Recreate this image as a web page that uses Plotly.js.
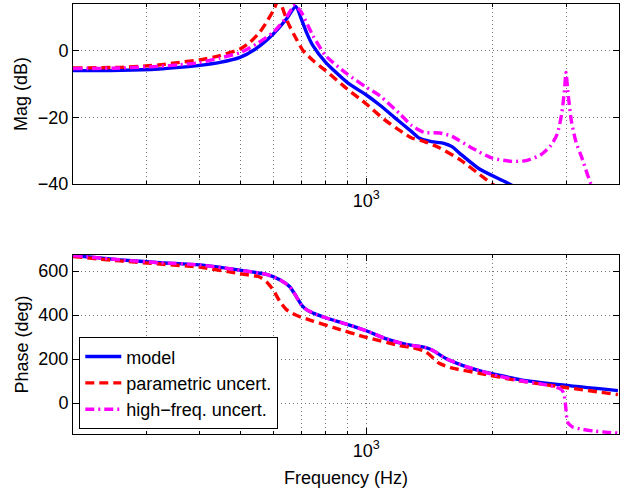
<!DOCTYPE html>
<html>
<head>
<meta charset="utf-8">
<script src="https://cdn.plot.ly/plotly-3.0.1.min.js"></script>
<style>
  html, body { margin: 0; padding: 0; background: #fff; }
  #plot { width: 628px; height: 488px; }
</style>
</head>
<body>
<div id="plot"></div>
<script>
// Bode magnitude (dB) — nominal model
const freqModelMag = [200, 260, 320, 359, 400, 448, 500, 547, 600, 645, 679, 700, 720, 746, 800, 900, 1000, 1076, 1166, 1280, 1340, 1430, 1530, 1600, 1670, 1860, 2170, 2500, 4000];
const magModel     = [-6.0, -5.9, -5.5, -5.0, -4.4, -3.5, -2.0, 0.7, 5.0, 9.5, 13.3, 9.5, 5.5, 1.5, -3.5, -9.5, -13.3, -16.3, -20.0, -24.2, -26.3, -27.3, -27.8, -28.8, -30.8, -35.5, -39.7, -44, -60];

// Bode magnitude (dB) — parametric uncertainty
const freqParamMag = [200, 260, 320, 359, 400, 448, 500, 528, 557, 578, 600, 616, 621, 627, 650, 679, 707, 750, 800, 900, 1000, 1100, 1203, 1283, 1371, 1497, 1671, 1864, 2006, 2400, 4000];
const magParam     = [-5.2, -5.0, -4.3, -3.5, -2.8, -1.5, 0.5, 2.5, 5.5, 8.5, 12.0, 15.5, 17.0, 14.0, 8.5, 3.8, 0.0, -3.2, -6.0, -11.5, -16.0, -20.5, -24.0, -26.2, -27.2, -29.2, -32.7, -37.2, -40.2, -46, -60];

// Bode magnitude (dB) — high-frequency uncertainty
const freqHighMag = [200, 260, 320, 359, 400, 448, 500, 547, 600, 645, 675, 700, 746, 800, 900, 1000, 1076, 1203, 1283, 1371, 1497, 1600, 1784, 1991, 2222, 2400, 2600, 2750, 2850, 2920, 2965, 2990, 3025, 3080, 3160, 3260, 3430, 3700, 4000];
const magHigh     = [-5.4, -5.2, -4.7, -4.2, -3.6, -2.2, -0.6, 2.0, 5.5, 10.0, 13.7, 11.5, 4.5, -1.5, -7.0, -11.0, -13.5, -19.0, -22.5, -24.5, -24.7, -25.7, -29.2, -32.2, -33.2, -33.0, -31.3, -28.5, -25.0, -19.0, -12.0, -6.5, -13.0, -21.0, -27.5, -32.0, -40.0, -47.0, -52.0];

// Bode phase (deg) — nominal model
const freqModelPh = [200, 259, 322, 400, 500, 578, 622, 657, 681, 700, 720, 760, 800, 900, 1000, 1116, 1243, 1387, 1438, 1547, 1727, 1858, 2080, 2321, 2890, 3976];
const phaseModel  = [671, 651, 638, 628, 604, 585, 561, 529, 484, 447, 425, 403, 388, 358, 329, 292, 267, 252, 240, 203, 166, 148, 126, 107, 84, 57];

// Bode phase (deg) — parametric uncertainty
const freqParamPh = [200, 259, 322, 400, 500, 557, 578, 600, 622, 645, 681, 746, 833, 1000, 1199, 1289, 1387, 1492, 1605, 1858, 2321, 2890, 3976];
const phaseParam  = [666, 646, 632, 618, 588, 573, 551, 514, 462, 425, 399, 373, 344, 299, 262, 252, 233, 181, 159, 136, 101, 75, 39];

// Bode phase (deg) — high-frequency uncertainty
const freqHighPh = [200, 259, 322, 400, 500, 578, 622, 657, 681, 700, 720, 760, 800, 900, 1000, 1116, 1243, 1387, 1438, 1547, 1727, 1858, 2080, 2321, 2600, 2800, 2900, 2950, 2975, 2990, 3005, 3030, 3100, 3250, 3500, 3976];
const phaseHigh  = [671, 651, 638, 628, 604, 585, 561, 529, 484, 447, 425, 403, 388, 358, 329, 292, 267, 252, 240, 203, 166, 148, 122, 103, 88, 75, 65, 48, 12, -30, -70, -92, -108, -118, -127, -136];

// Legend labels and axis tick labels
const seriesNames = ['model', 'parametric uncert.', 'high\u2212freq. uncert.'];
const magTicks = [-40, -20, 0];
const phaseTicks = [0, 200, 400, 600];
const freqMajorTicks = [1000];
const freqMajorText = ['10<sup>3</sup>'];
const freqMinorTicks = [300, 400, 500, 600, 700, 800, 900, 2000, 3000];

const FONT = '"Liberation Sans", Arial, Helvetica, sans-serif';
const colors = ['#0000ff', '#ff0000', '#ff00ff'];
const dashes = ['solid', '9px,5px', '9px,4px,2px,4px'];

function trace(x, y, i, xa, ya, showLegend) {
  return {
    x: x, y: y, xaxis: xa, yaxis: ya, type: 'scatter', mode: 'lines',
    name: seriesNames[i], showlegend: showLegend,
    line: { color: colors[i], width: 3.4, dash: dashes[i], shape: 'spline', smoothing: 0.6 },
    hoverinfo: 'skip'
  };
}

const data = [
  trace(freqModelMag, magModel, 0, 'x', 'y', false),
  trace(freqParamMag, magParam, 1, 'x', 'y', false),
  trace(freqHighMag, magHigh, 2, 'x', 'y', false),
  trace(freqModelPh, phaseModel, 0, 'x2', 'y2', true),
  trace(freqParamPh, phaseParam, 1, 'x2', 'y2', true),
  trace(freqHighPh, phaseHigh, 2, 'x2', 'y2', true)
];

const gridDash = '1px,3px';
const gridColor = '#777';

function freqAxis(anchor, title) {
  const ax = {
    type: 'log', anchor: anchor,
    range: [Math.log10(200), Math.log10(4000)],
    tickmode: 'array', tickvals: freqMajorTicks, ticktext: freqMajorText,
    ticks: 'inside', ticklen: 6, tickcolor: '#000', tickwidth: 1,
    showline: true, linecolor: '#000', linewidth: 1, mirror: 'ticks',
    showgrid: true, gridcolor: gridColor, griddash: gridDash, gridwidth: 1,
    zeroline: false,
    tickfont: { family: FONT, size: 18, color: '#000' },
    minor: {
      tickmode: 'array', tickvals: freqMinorTicks,
      ticks: 'inside', ticklen: 3, tickcolor: '#000',
      showgrid: true, gridcolor: gridColor, griddash: gridDash, gridwidth: 1
    }
  };
  if (title) ax.title = { text: title, font: { family: FONT, size: 18, color: '#000' }, standoff: 11 };
  return ax;
}

function valueAxis(anchor, domain, range, ticks, title) {
  return {
    anchor: anchor, domain: domain, range: range,
    tickmode: 'array', tickvals: ticks,
    ticks: 'inside', ticklen: 6, tickcolor: '#000', tickwidth: 1,
    showline: true, linecolor: '#000', linewidth: 1, mirror: 'ticks',
    showgrid: true, gridcolor: gridColor, griddash: gridDash, gridwidth: 1,
    zeroline: false,
    tickfont: { family: FONT, size: 18, color: '#000' },
    title: { text: title, font: { family: FONT, size: 18, color: '#000' }, standoff: 5 }
  };
}

const layout = {
  width: 628, height: 488,
  margin: { l: 73, r: 9, t: 4, b: 54 },
  paper_bgcolor: '#fff', plot_bgcolor: '#fff',
  font: { family: FONT, size: 18, color: '#000' },
  xaxis: freqAxis('y', null),
  yaxis: valueAxis('x', [0.5814, 1], [-40, 14], magTicks, 'Mag (dB)'),
  xaxis2: freqAxis('y2', 'Frequency (Hz)'),
  yaxis2: valueAxis('x2', [0, 0.4163], [-140, 673], phaseTicks, 'Phase (deg)'),
  showlegend: true,
  legend: {
    x: 0.0115, y: 0.011, xanchor: 'left', yanchor: 'bottom',
    bgcolor: '#fff', bordercolor: '#000', borderwidth: 1,
    font: { family: FONT, size: 18, color: '#000' },
    itemwidth: 36, tracegroupgap: 0
  }
};

Plotly.newPlot('plot', data, layout, { staticPlot: true, displayModeBar: false });
</script>
</body>
</html>
